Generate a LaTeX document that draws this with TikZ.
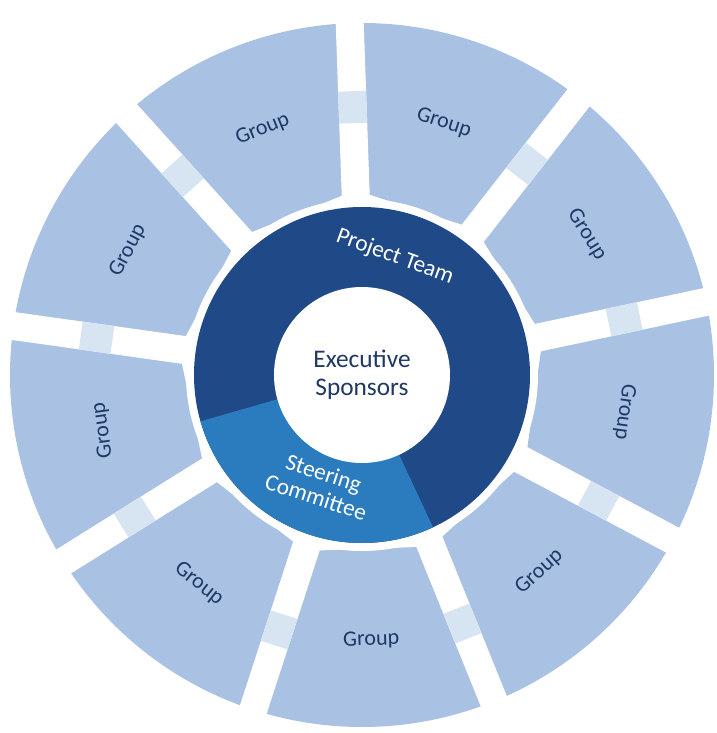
\documentclass[tikz,border=0pt]{standalone}
\usepackage{fontspec}
\setmainfont{Carlito}
\definecolor{segfill}{HTML}{A9C1E2}
\definecolor{bandfill}{HTML}{D7E5F3}
\definecolor{ringdark}{HTML}{1F4A87}
\definecolor{ringlight}{HTML}{2B7BBF}
\definecolor{textdark}{HTML}{1F3864}
\tikzset{font={\fontsize{16.5pt}{18}\selectfont}}
\tikzset{grouplabel/.style={text=textdark}}
\tikzset{ringlabel/.style={text=white, align=center, font={\fontsize{17.5pt}{19}\selectfont}}}

\begin{document}
\begin{tikzpicture}[x=0.75pt,y=0.75pt]
      \useasboundingbox (-362,-358) rectangle (355,375);
      %segments
      \foreach \c in {112,72,32,-8,-48,-88,-128,-168,152}
	\fill[segfill] (\c-20:185) -- (\c-20:352) arc (\c-20:\c+20:352) -- (\c+20:185) -- cycle;
      %gaps
      \foreach \c in {132,92,52,12,-28,-68,-108,-148,172}
	\draw[white, line width=21pt] (\c:172) -- (\c:372);
      %bands
      \foreach \c in {132,92,52,12,-28,-68,-108,-148,172}
	\draw[bandfill, line width=21pt] (\c:252) -- (\c:284);
      %ring
      \fill[white] (0,0) circle (176);
      \fill[ringdark] (0,0) circle (168);
      \fill[ringlight] (0,0) -- (-164:168) arc (-164:-65:168) -- cycle;
      \fill[white] (0,0) circle (88);
      %labels
      \foreach \c/\r in {112/22,72/-18,32/-58,-8/-98,-48/42,-88/2,-128/-38,-168/98,152/62}
	\node[grouplabel, rotate=\r] (g\c) at (\c:265) {Group};
      \node[text=textdark, align=center, font={\fontsize{19pt}{21}\selectfont}] (exec) at (0,0) {Executive\\Sponsors};
      \node[ringlabel, rotate=-20] (team) at (33,118) {Project Team};
      \node[ringlabel, rotate=-18] (steer) at (-42,-110) {Steering\\Committee};
    \end{tikzpicture}
\end{document}
